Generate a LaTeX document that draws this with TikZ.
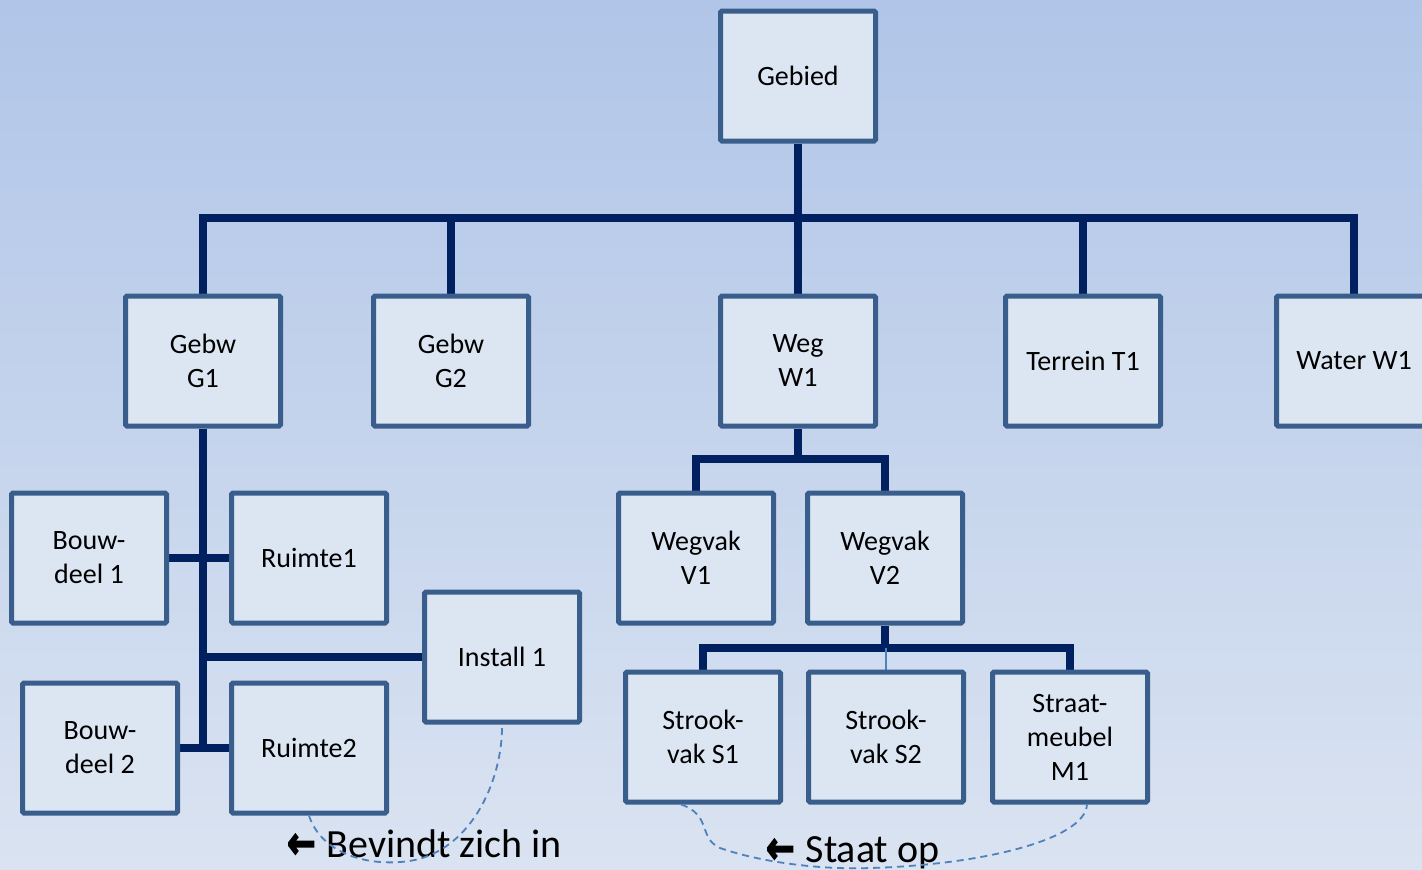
\documentclass[tikz,border=0pt]{standalone}
\usepackage{fontspec}
\usepackage{graphicx}
\setmainfont{Carlito}
\newfontfamily\arrowfont[BoldFeatures={FakeBold=4}]{DejaVu Sans}
\usetikzlibrary{backgrounds}
\definecolor{bgtop}{RGB}{176,197,232}
\definecolor{bgbot}{RGB}{218,227,241}
\definecolor{boxfill}{RGB}{220,230,242}
\definecolor{boxline}{RGB}{58,94,140}
\definecolor{navy}{RGB}{0,32,96}
\definecolor{dashblue}{RGB}{79,129,189}
\newcommand{\boldarrow}{\raisebox{-1pt}{\scalebox{1}[1.3]{\arrowfont\bfseries\fontsize{34}{40}\selectfont ←}}}
\begin{document}
\begin{tikzpicture}[x=1pt,y=-1pt,
  box/.style={draw=boxline, fill=boxfill, line width=5pt, rounded corners=1.5pt,
    minimum width=155pt, minimum height=130pt, align=center, inner sep=2pt,
    font=\fontsize{28}{34}\selectfont},
  conn/.style={draw=navy, line width=8.5pt},
  thinconn/.style={draw=dashblue, line width=1.5pt},
  rel/.style={draw=dashblue, line width=1.8pt, dash pattern=on 7pt off 5pt},
  lab/.style={anchor=base west, inner sep=0pt, font=\fontsize{40}{48}\selectfont}]
\useasboundingbox (0,0) rectangle (1422,870);
\clip (0,0) rectangle (1422,870);

% nodes
\node[box] (gebied) at (798,76) {Gebied};
\node[box] (g1) at (203,361) {Gebw\\G1};
\node[box] (g2) at (451,361) {Gebw\\G2};
\node[box] (w1) at (798,361) {Weg\\W1};
\node[box] (t1) at (1083,361) {Terrein T1};
\node[box] (water) at (1354,361) {Water W1};
\node[box] (b1) at (89,558) {Bouw-\\deel 1};
\node[box] (r1) at (309,558) {Ruimte1};
\node[box] (inst) at (502,657) {Install 1};
\node[box] (b2) at (100,748) {Bouw-\\deel 2};
\node[box] (r2) at (309,748) {Ruimte2};
\node[box] (v1) at (696,558) {Wegvak\\V1};
\node[box] (v2) at (885,558) {Wegvak\\V2};
\node[box] (s1) at (703,737) {Strook-\\vak S1};
\node[box] (s2) at (886,737) {Strook-\\vak S2};
\node[box] (m1) at (1070,737) {Straat-\\meubel\\M1};

\coordinate (bus) at (798,218);
\coordinate (wbus) at (798,459);
\coordinate (vbus) at (885,648);
\coordinate (gtrunk) at (203,748);

\begin{scope}[on background layer]
  \fill[top color=bgtop, bottom color=bgbot] (0,0) rectangle (1422,870);
  \draw[conn] (gebied.south) -- (bus);
  \draw[conn] (g1.north) |- (bus) -| (water.north);
  \draw[conn] (g2.north) -- (g2.north |- bus);
  \draw[conn] (w1.north) -- (w1.north |- bus);
  \draw[conn] (t1.north) -- (t1.north |- bus);
  % G1 children
  \draw[conn] (g1.south) -- (gtrunk);
  \draw[conn] (b1.east) -- (r1.west);
  \draw[conn] (g1.south |- inst.west) -- (inst.west);
  \draw[conn] (b2.east) -- (r2.west);
  % W1 children
  \draw[conn] (w1.south) -- (wbus);
  \draw[conn] (v1.north) |- (wbus) -| (v2.north);
  % V2 children
  \draw[conn] (v2.south) -- (vbus);
  \draw[conn] (s1.north) |- (vbus) -| (m1.north);
  \draw[thinconn] (s2.north) -- (s2.north |- vbus);
\end{scope}

% labels
\node[lab] (lbev) at (287,857) {\boldarrow\hspace{11pt}Bevindt zich in};
\node[lab] (lsta) at (766,862) {\boldarrow\hspace{11pt}Staat op};

% relation curves
\draw[rel] (r2.south) .. controls (320,850) and (360,865) .. (400,862)
  .. controls (470,858) and (503,780) .. (inst.south);
\coordinate (s1b) at ([xshift=-22pt]s1.south);
\coordinate (m1b) at ([xshift=17pt]m1.south);
\draw[rel] (s1b) .. controls (712,815) and (698,838) .. (720,848)
  .. controls (760,862) and (820,870) .. (870,868)
  .. controls (980,865) and (1085,840) .. (m1b);
\end{tikzpicture}
\end{document}
